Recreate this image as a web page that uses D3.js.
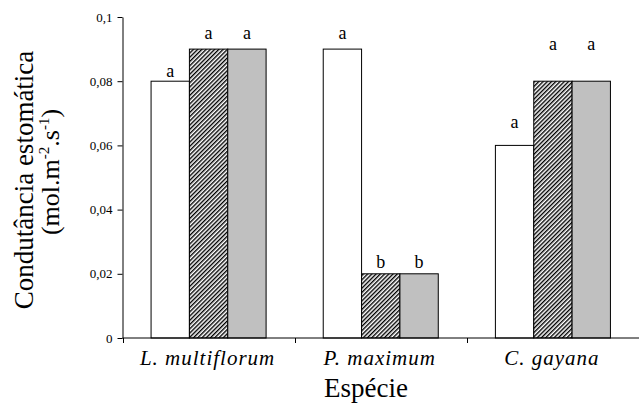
<!DOCTYPE html>
<html>
<head>
<meta charset="utf-8">
<script src="https://cdn.jsdelivr.net/npm/d3@7"></script>
<style>
    body { margin: 0; background: #fff; }
    svg text { font-family: "Liberation Serif", "Times New Roman", serif; fill: #000; }
</style>
</head>
<body>
<svg id="chart" width="639" height="404"></svg>
<script>
// data
const categories = ["L. multiflorum", "P. maximum", "C. gayana"];
const seriesKeys = ["s1", "s2", "s3"];
const valuesS1 = [0.08, 0.09, 0.06];
const valuesS2 = [0.09, 0.02, 0.08];
const valuesS3 = [0.09, 0.02, 0.08];
const lettersS1 = ["a", "a", "a"];
const lettersS2 = ["a", "b", "a"];
const lettersS3 = ["a", "b", "a"];
// height (data units) where each letter sits
const letterLevelS1 = [0.0813, 0.0931, 0.0654];
const letterLevelS2 = [0.0931, 0.0218, 0.0897];
const letterLevelS3 = [0.0931, 0.0218, 0.0897];
const yTicks = [0, 0.02, 0.04, 0.06, 0.08, 0.1];
const yTickLabels = ["0", "0,02", "0,04", "0,06", "0,08", "0,1"];

const seriesValues = [valuesS1, valuesS2, valuesS3];
const seriesLetters = [lettersS1, lettersS2, lettersS3];
const seriesLevels = [letterLevelS1, letterLevelS2, letterLevelS3];
const fills = ["#ffffff", "url(#hatch)", "#c0c0c0"];

const svg = d3.select("#chart");
const plotLeft = 122.5, plotRight = 639, plotTop = 17, plotBottom = 338;

// hatch pattern
const defs = svg.append("defs");
const pat = defs.append("pattern")
    .attr("id", "hatch")
    .attr("patternUnits", "userSpaceOnUse")
    .attr("width", 3)
    .attr("height", 3)
    .attr("patternTransform", "rotate(45)");
pat.append("rect").attr("width", 3).attr("height", 3).attr("fill", "#fff");
pat.append("line")
    .attr("x1", 0.7).attr("y1", 0).attr("x2", 0.7).attr("y2", 3)
    .attr("stroke", "#000").attr("stroke-width", 1.4);

const x = d3.scaleBand().domain(categories).range([plotLeft, plotRight]).padding(0);
const xs = d3.scaleBand().domain(seriesKeys).range([0, x.bandwidth()])
    .paddingInner(0).paddingOuter(0.745);
const y = d3.scaleLinear().domain([0, 0.1]).range([plotBottom, plotTop]);

// bars
seriesKeys.forEach(function (key, si) {
    const g = svg.append("g");
    g.selectAll("rect")
        .data(categories)
        .enter()
        .append("rect")
        .attr("x", d => x(d) + xs(key))
        .attr("y", (d, i) => y(seriesValues[si][i]))
        .attr("width", xs.bandwidth())
        .attr("height", (d, i) => plotBottom - y(seriesValues[si][i]))
        .attr("fill", fills[si])
        .attr("stroke", "#000")
        .attr("stroke-width", 1);

    g.selectAll("text")
        .data(categories)
        .enter()
        .append("text")
        .attr("x", d => x(d) + xs(key) + xs.bandwidth() / 2)
        .attr("y", (d, i) => y(seriesLevels[si][i]))
        .attr("text-anchor", "middle")
        .style("font-size", "18px")
        .text((d, i) => seriesLetters[si][i]);
});

// y axis
const yAxis = d3.axisLeft(y)
    .tickValues(yTicks)
    .tickSize(5)
    .tickSizeOuter(0)
    .tickFormat((d, i) => yTickLabels[i]);
const yg = svg.append("g")
    .attr("transform", `translate(${plotLeft},0)`)
    .call(yAxis);
yg.selectAll("text").style("font-size", "13px").attr("x", -10);
yg.selectAll("path, line").attr("stroke", "#000");

// x axis
const xg = svg.append("g").attr("transform", `translate(0,${plotBottom})`);
xg.append("line")
    .attr("x1", plotLeft).attr("x2", plotRight)
    .attr("y1", 0).attr("y2", 0)
    .attr("stroke", "#000");
xg.selectAll(".tick")
    .data(categories)
    .enter()
    .append("line")
    .attr("x1", d => Math.round(x(d)) + 0.5).attr("x2", d => Math.round(x(d)) + 0.5)
    .attr("y1", 0).attr("y2", 5)
    .attr("stroke", "#000");
xg.selectAll(".cat")
    .data(categories)
    .enter()
    .append("text")
    .attr("x", d => x(d) + x.bandwidth() / 2 - 1)
    .attr("y", 27)
    .attr("text-anchor", "middle")
    .style("font-size", "21px")
    .style("font-style", "italic")
    .style("letter-spacing", "1px")
    .text(d => d);

// axis titles
svg.append("text")
    .attr("x", 366)
    .attr("y", 397)
    .attr("text-anchor", "middle")
    .style("font-size", "27px")
    .text("Espécie");

const yTitle = svg.append("g").attr("transform", "translate(33,180) rotate(-90)");
yTitle.append("text")
    .attr("text-anchor", "middle")
    .style("font-size", "27px")
    .text("Condutância estomática");
const line2 = yTitle.append("text")
    .attr("x", 8)
    .attr("y", 26)
    .attr("text-anchor", "middle")
    .style("font-size", "26px");
line2.append("tspan").text("(mol.m");
line2.append("tspan").attr("dy", -10).style("font-size", "15px").text("-2");
line2.append("tspan").attr("dy", 10).text(".s");
line2.append("tspan").attr("dy", -10).style("font-size", "15px").text("-1");
line2.append("tspan").attr("dy", 10).text(")");
</script>
</body>
</html>
